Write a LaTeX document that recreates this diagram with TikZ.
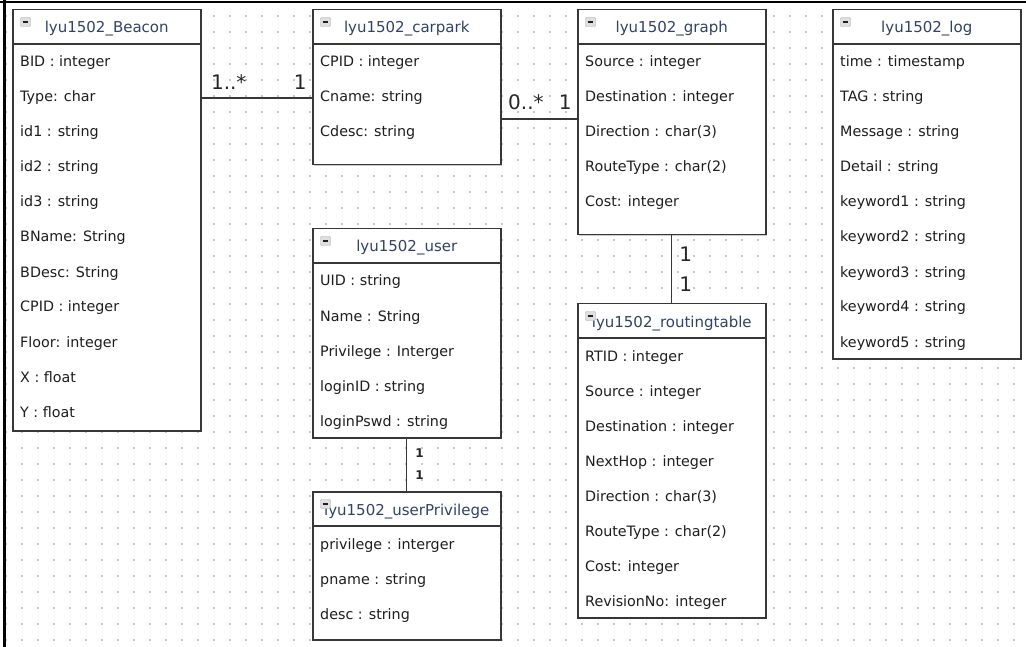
\documentclass[tikz,border=0pt]{standalone}
\usepackage{fontspec}
\setmainfont{DejaVu Sans}
\usetikzlibrary{positioning, shadows}
\definecolor{boxline}{RGB}{55,55,55}
\definecolor{titletext}{RGB}{50,66,102}
\definecolor{attrtext}{RGB}{30,30,30}
\definecolor{griddot}{RGB}{200,200,200}
\tikzset{
  classbox/.style={draw=boxline, line width=1.5pt, fill=white, minimum width=188pt, inner sep=0pt, anchor=north west,
    drop shadow={shadow xshift=1pt, shadow yshift=-1pt, fill=black!40, opacity=0.5}},
  classrule/.style={draw=boxline, line width=1.5pt},
  classtitle/.style={text=titletext, font=\fontsize{15}{17}\selectfont, inner sep=0pt, anchor=base},
  classicon/.style={draw=gray!65, fill=gray!25, minimum width=10pt, minimum height=9pt, inner sep=0pt, rounded corners=1pt},
  attr/.style={text=attrtext, font=\fontsize{14.3}{16}\selectfont, anchor=base west, inner sep=0pt},
  assoc/.style={draw=boxline, line width=1.4pt},
  mult/.style={text=black!85, font=\fontsize{20}{22}\selectfont, inner sep=0pt, anchor=base west},
  multsmall/.style={text=black!85, font=\bfseries\fontsize{12}{13}\selectfont, inner sep=0pt, anchor=base west}
}
% #1 name, #2 top left corner, #3 height, #4 title, #5 attributes
\newcommand{\umlclass}[5]{%
  \node[classbox, minimum height=#3pt] (#1) at (#2) {};
  \draw[classrule] ([yshift=-35pt]#1.north west) -- ([yshift=-35pt]#1.north east);
  \node[classtitle] (#1-title) at ([yshift=-24pt]#1.north) {#4};
  \node[classicon] (#1-icon) at ([xshift=13.5pt,yshift=-13pt]#1.north west) {};
  \draw[gray!25!black, line width=1.1pt] ([xshift=-2.8pt]#1-icon.center) -- ([xshift=2.8pt]#1-icon.center);
  \foreach \a [count=\i] in {#5}
    \node[attr] (#1-\i) at ([xshift=8pt,yshift={-23pt-35pt*\i}]#1.north west) {\a};
}

\begin{document}
\begin{tikzpicture}[x=1pt, y=-1pt]
\useasboundingbox (0,0) rectangle (1026,647);
% dotted canvas
\foreach \gx in {6,22,...,1022}
  \foreach \gy in {16,32,...,640}
    \fill[griddot] (\gx-0.6,\gy-0.6) rectangle ++(1.2,1.2);
\draw[black, line width=1.5pt] (0,2) -- (1026,2);
\draw[black, line width=3pt] (4.5,0) -- (4.5,647);

\umlclass{beacon}{12,9}{421}{lyu1502\_Beacon}{BID : integer, Type: char, id1 : string, id2 : string, id3 : string,
  BName: String, BDesc: String, CPID : integer, Floor: integer, X : float, Y : float}
\umlclass{carpark}{312,9}{155}{lyu1502\_carpark}{CPID : integer, Cname: string, Cdesc: string}
\umlclass{graph}{577,9}{225}{lyu1502\_graph}{Source : integer, Destination : integer, Direction : char(3),
  RouteType : char(2), Cost: integer}
\umlclass{log}{832,9}{349}{lyu1502\_log}{time : timestamp, TAG : string, Message : string, Detail : string,
  keyword1 : string, keyword2 : string, keyword3 : string, keyword4 : string, keyword5 : string}
\umlclass{user}{312,228}{209}{lyu1502\_user}{UID : string, Name : String, Privilege : Interger, loginID : string,
  loginPswd : string}
\umlclass{userpriv}{312,491}{148}{lyu1502\_userPrivilege}{privilege : interger, pname : string, desc : string}
\umlclass{routing}{577,303}{314}{lyu1502\_routingtable}{RTID : integer, Source : integer, Destination : integer,
  NextHop : integer, Direction : char(3), RouteType : char(2), Cost: integer, RevisionNo: integer}

% associations
\coordinate (cg) at (0,119);
\draw[assoc] (beacon.east |- carpark-2) -- node[mult, pos=0.08, yshift=9pt] (bc-many) {1..*}
  node[mult, pos=0.83, yshift=9pt] (bc-one) {1} (carpark.west |- carpark-2);
\draw[assoc] (carpark.east |- cg) -- node[mult, pos=0.08, yshift=9pt] (cg-many) {0..*}
  node[mult, pos=0.75, yshift=9pt] (cg-one) {1} (graph.west |- cg);
\draw[assoc] (graph.south) -- node[mult, pos=0.39, xshift=7pt] (gr-top) {1}
  node[mult, pos=0.83, xshift=7pt] (gr-bottom) {1} (routing.north);
\draw[assoc] (user.south) -- node[multsmall, pos=0.37, xshift=8pt] (up-top) {1}
  node[multsmall, pos=0.78, xshift=8pt] (up-bottom) {1} (userpriv.north);
\end{tikzpicture}
\end{document}
